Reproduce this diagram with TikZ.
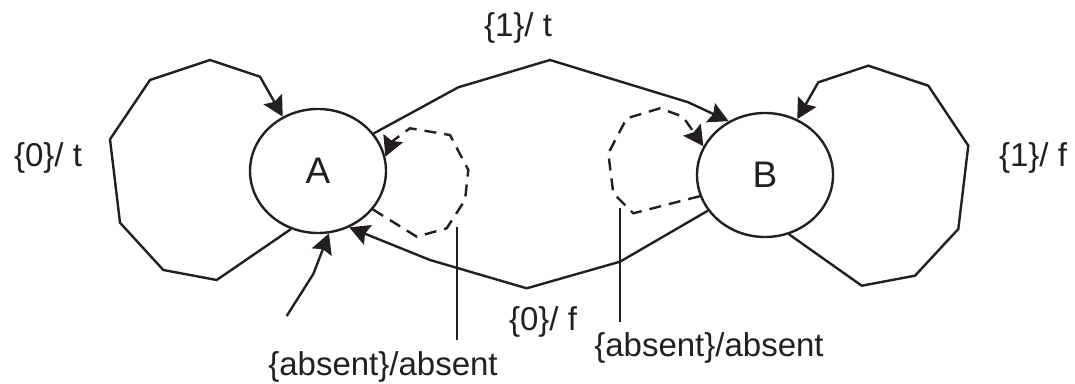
\documentclass[tikz,border=0pt]{standalone}
\usepackage{fontspec}
\setmainfont{Liberation Sans}
\usepackage{tikz}
\usetikzlibrary{arrows.meta,shapes.geometric}
\usepackage{xcolor}
\definecolor{DiagramInk}{HTML}{231F20}
\tikzset{
  statenode/.style={ellipse,draw=DiagramInk,line width=1.2pt,minimum width=68pt,minimum height=62pt,inner sep=0pt,text=DiagramInk,font=\fontsize{18.5}{22}\selectfont},
  transarrow/.style={-{Stealth[length=10pt,width=10.5pt,inset=1.5pt]},line width=1.2pt,draw=DiagramInk},
  absentarrow/.style={transarrow,dash pattern=on 6pt off 4pt},
  leader/.style={line width=1.2pt,draw=DiagramInk},
  translabel/.style={inner sep=0pt,text=DiagramInk,font=\fontsize{16.5}{19}\selectfont}
}

\begin{document}
\begin{tikzpicture}[x=0.5pt,y=-0.5pt]
  \useasboundingbox (0,0) rectangle (1075,384);
  % states
  \node[statenode] (A) at (318,171) {A};
  \node[statenode] (B) at (765,175) {B};
  % labels
  \node[translabel] (l1t) at (518,28) {\{1\}/ t};
  \node[translabel] (l0t) at (48,158) {\{0\}/ t};
  \node[translabel] (l1f) at (1033,158) {\{1\}/ f};
  \node[translabel] (l0f) at (543,322) {\{0\}/ f};
  \node[translabel] (labsA) at (383,367) {\{absent\}/absent};
  \node[translabel] (labsB) at (709,348) {\{absent\}/absent};
  % transitions
  \draw[transarrow] (A.245) -- (216.7,280) -- (163.3,270) -- (120,222.7) -- (110,139.3)
    -- (150,80) -- (210,60) -- (260,76.7) -- (A.123);
  \draw[transarrow] (B.292) -- (861.7,285.7) -- (915,275.7) -- (958.3,229) -- (968.3,145.7)
    -- (928.3,85.7) -- (868.3,65.7) -- (818.3,82.3) -- (B.60);
  \draw[transarrow] (A.34) -- (458.3,87.3) -- (550,60) -- (688.3,102.3) -- (B.124);
  \draw[transarrow] (B.212) -- (620,261.7) -- (526.7,288.3) -- (430,260) -- (A.299);
  \draw[absentarrow] (A.325) -- (416.7,236.7) -- (446.7,228.3) -- (465,200) -- (468.3,170)
    -- (450,135) -- (410,128.3) -- (391.7,141.7) -- (A.12);
  \draw[absentarrow] (B.198) -- (633.3,213.3) -- (613.3,193.3) -- (608.3,153.3)
    -- (626.7,118.3) -- (660,108.3) -- (683,116.7) -- (B.155);
  % initial arrow
  \coordinate (init) at (286.7,316);
  \draw[transarrow] (init) -- (313.3,274) -- (A.280);
  % leader lines
  \coordinate (ldAtop) at (457,227);
  \coordinate (ldAbot) at (457,340);
  \coordinate (ldBtop) at (620,208);
  \coordinate (ldBbot) at (620,322);
  \draw[leader] (ldAtop) -- (ldAbot);
  \draw[leader] (ldBtop) -- (ldBbot);
\end{tikzpicture}
\end{document}
